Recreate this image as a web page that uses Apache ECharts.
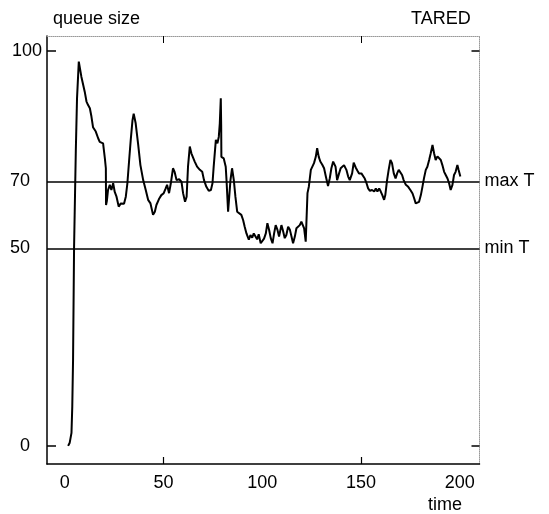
<!DOCTYPE html>
<html>
<head>
<meta charset="utf-8">
<script src="https://cdn.jsdelivr.net/npm/echarts@6/dist/echarts.min.js"></script>
<style>html,body{margin:0;padding:0;background:#fff}#c{width:549px;height:514px}</style>
</head>
<body>
<div id="c"></div>
<script>
const timeValues = [1.7,2.5,3.4,3.8,4.2,4.7,5.2,5.6,6.2,7.1,8.4,10.1,11.0,11.8,12.7,13.5,14.3,15.7,16.9,17.7,18.6,19.4,20.3,20.8,20.9,21.3,21.9,22.8,23.6,24.5,25.3,26.2,27.3,28.4,29.2,30.0,30.9,31.7,32.6,33.4,34.3,34.9,35.9,37.1,38.3,39.7,41.0,42.2,43.4,44.7,45.6,46.4,47.7,48.9,50.1,51.1,51.8,52.8,53.7,54.8,55.6,56.6,57.9,59.1,59.9,60.9,61.7,62.4,63.3,64.1,65.0,65.8,67.0,68.4,69.6,70.5,71.7,72.9,74.0,74.8,75.4,76.5,77.3,78.0,78.5,79.0,79.2,79.3,80.5,81.5,81.9,82.7,83.9,84.7,85.6,86.4,87.3,88.3,89.4,90.3,91.1,92.0,93.2,94.0,94.9,95.7,96.5,97.4,98.2,99.2,100.1,100.9,101.8,102.6,103.5,104.3,105.2,106.0,106.8,107.7,108.5,109.7,110.5,111.4,112.2,113.1,114.0,114.8,115.6,116.5,117.3,118.1,119.0,119.8,120.7,121.2,122.0,122.7,122.9,123.6,124.1,124.6,125.4,126.2,127.1,127.8,128.6,129.4,130.4,131.3,132.2,133.3,134.2,135.0,135.9,137.1,137.9,138.9,139.7,140.6,141.4,142.6,143.5,144.3,145.5,146.3,147.3,148.2,149.0,150.2,151.0,151.9,152.8,153.6,154.5,155.6,156.7,157.5,158.3,159.2,160.0,160.8,161.7,162.3,163.2,164.0,164.9,165.7,166.6,167.5,168.3,169.1,170.0,170.8,171.6,172.7,173.9,175.0,176.1,176.9,177.7,178.6,179.4,180.3,181.1,181.9,182.8,183.6,184.5,185.3,186.2,187.0,187.8,188.7,189.5,190.4,191.2,192.1,192.9,193.8,194.6,195.4,196.3,197.1,197.9,198.8,199.4,200.3];
const queueValues = [0,0.8,3.3,10,22,50,64,75,88,97.3,93.5,89.7,87.2,86.3,85.5,83.4,80.7,79.6,77.9,77.0,77.5,76.6,72.8,70.3,61,62,64.8,66.1,64.8,66.5,64.3,63.1,60.6,61.4,61.8,61.3,63.1,66.5,72.4,77.5,82.5,84.1,81.7,76.6,71.1,67.3,64.8,62.3,61.4,58.5,59.3,61.0,62.5,63.5,64.0,65.2,66.1,64.0,66.5,70.3,69.4,67.3,67.5,66.9,64.0,61.8,63.1,70.7,75.8,74.1,73.7,72.0,70.7,69.9,69.4,67.3,65.6,64.6,64.8,66.5,70.7,77.5,76.6,78.3,81.7,88.0,81.0,73.2,72.8,70.7,67.3,59.3,67.3,70.3,67.3,63.1,59.3,58.9,58.5,57.2,55.5,53.8,52.2,53.4,52.7,53.8,53.1,52.3,53.6,51.3,50.9,52.5,53.8,56.4,54.6,52.6,51.3,53.8,55.9,54.7,53.0,55.9,54.5,52.6,53.4,55.5,54.7,53.0,51.3,53.0,55.1,55.5,55.9,56.8,57.2,55.1,51.7,51.3,64.0,65.7,67.8,69.9,70.3,71.6,73.2,75.4,73.2,72.0,71.2,70.3,68.2,65.8,67.8,70.3,72.0,70.7,67.3,69.0,70.3,69.9,71.1,69.9,68.2,67.3,69.0,71.7,70.5,69.7,69.0,69.0,68.6,67.7,66.5,65.2,64.6,64.8,64.4,65.2,64.4,65.2,64.4,63.5,62.3,63.5,67.3,69.9,72.4,71.6,69.0,67.7,69.0,69.9,70.1,68.6,67.3,66.1,65.6,64.8,63.9,62.7,61.4,61.0,61.8,63.5,65.6,67.8,69.9,70.7,72.4,74.1,76.2,74.1,72.4,73.3,73.7,72.4,71.1,69.4,68.6,67.7,66.5,64.8,66.1,68.6,69.4,71.1,69.9,68.2];

const xTickValues = [0, 50, 100, 150, 200];
const xMarkedTicks = [50, 150];
const yTickValues = [0, 50, 67, 100];
const yTickLabels = ['0', '50', '70', '100'];
const thresholdValues = [67, 50];
const thresholdNames = ['max T', 'min T'];

const FONT = 'Liberation Sans';
const FS = 18;
const xMin = -9, xMax = 210, yMin = -4.6, yMax = 103.8;

const seriesData = timeValues.map((t, i) => [t, queueValues[i]]);
const labelOf = v => yTickLabels[yTickValues.indexOf(v)];

const chart = echarts.init(document.getElementById('c'), null, {renderer: 'canvas'});
chart.setOption({
  animation: false,
  backgroundColor: '#fff',
  textStyle: {fontFamily: FONT},
  title: [
    {text: 'queue size', left: 48, top: 5, textStyle: {fontFamily: FONT, fontSize: FS, fontWeight: 'normal', color: '#000'}},
    {text: 'TARED', left: 406, top: 5, textStyle: {fontFamily: FONT, fontSize: FS, fontWeight: 'normal', color: '#000'}},
    {text: 'time', left: 423, top: 491, textStyle: {fontFamily: FONT, fontSize: FS, fontWeight: 'normal', color: '#000'}}
  ],
  grid: {left: 47, right: 69.5, top: 36, bottom: 50, containLabel: false},
  xAxis: [
    {
      type: 'value', min: xMin, max: xMax, position: 'bottom',
      axisLine: {show: true, onZero: false, lineStyle: {color: '#000', width: 1.5}},
      axisTick: {show: true, inside: true, length: 7, customValues: xMarkedTicks, lineStyle: {color: '#000', width: 1.2}},
      axisLabel: {show: true, customValues: xTickValues, margin: 10, color: '#000', fontSize: FS, fontFamily: FONT},
      splitLine: {show: false}
    },
    {
      type: 'value', min: xMin, max: xMax, position: 'top',
      axisLine: {show: true, onZero: false, lineStyle: {color: '#999', width: 1, type: 'dotted'}},
      axisTick: {show: true, inside: true, length: 7, customValues: xMarkedTicks, lineStyle: {color: '#000', width: 1}},
      axisLabel: {show: false},
      splitLine: {show: false}
    }
  ],
  yAxis: [
    {
      type: 'value', min: yMin, max: yMax, position: 'left',
      axisLine: {show: true, onZero: false, lineStyle: {color: '#000', width: 1.5}},
      axisTick: {show: true, inside: true, length: 9, customValues: [0, 100], lineStyle: {color: '#000', width: 1.5}},
      axisLabel: {show: true, customValues: [0, 50, 67], formatter: labelOf, margin: 17, color: '#000', fontSize: FS, fontFamily: FONT, padding: [4, 0, 0, 0]},
      splitLine: {show: false}
    },
    {
      type: 'value', min: yMin, max: yMax, position: 'left',
      axisLine: {show: false},
      axisTick: {show: false},
      axisLabel: {show: true, customValues: [100], formatter: labelOf, margin: 5, color: '#000', fontSize: FS, fontFamily: FONT, padding: [2, 0, 0, 0]},
      splitLine: {show: false}
    },
    {
      type: 'value', min: yMin, max: yMax, position: 'right',
      axisLine: {show: true, onZero: false, lineStyle: {color: '#999', width: 1, type: 'dotted'}},
      axisTick: {show: true, inside: true, length: 8, customValues: [0, 100], lineStyle: {color: '#000', width: 1.5}},
      axisLabel: {show: false},
      splitLine: {show: false}
    }
  ],
  series: [
    {
      type: 'line',
      xAxisIndex: 0, yAxisIndex: 0,
      data: seriesData,
      showSymbol: false,
      symbol: 'none',
      lineStyle: {color: '#000', width: 2},
      z: 3,
      markLine: {
        silent: true,
        symbol: 'none',
        lineStyle: {color: '#000', width: 1.5, type: 'solid'},
        label: {show: true, position: 'end', distance: 5, color: '#000', fontSize: FS, fontFamily: FONT},
        data: thresholdValues.map((v, i) => ({yAxis: v, label: {formatter: thresholdNames[i]}}))
      }
    }
  ]
});
</script>
</body>
</html>
